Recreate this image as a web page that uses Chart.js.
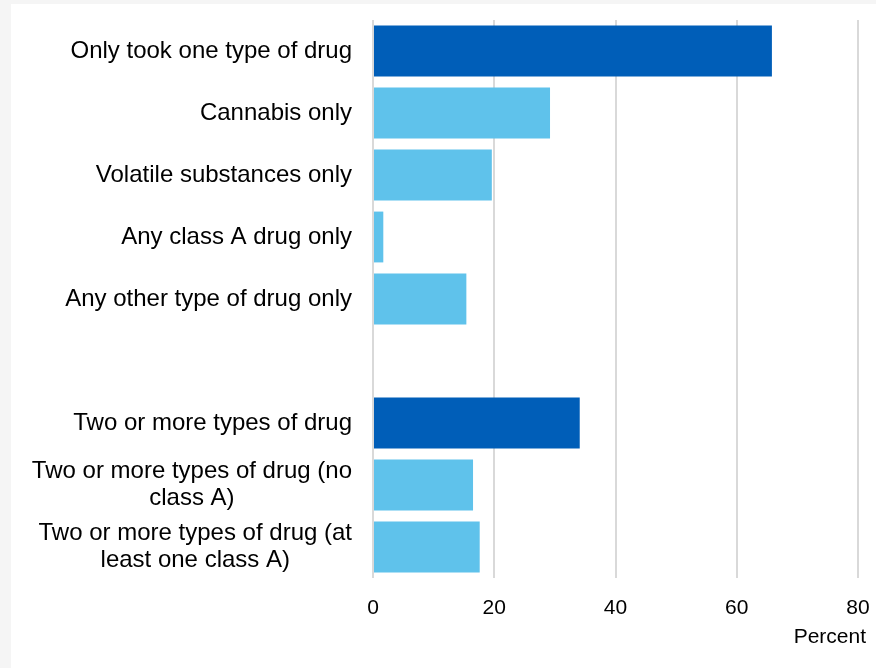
<!DOCTYPE html>
<html>
<head>
<meta charset="utf-8">
<script src="https://cdn.jsdelivr.net/npm/chart.js@4.4.0/dist/chart.umd.min.js"></script>
<style>
    html, body { margin: 0; padding: 0; background: #f5f5f5; }
    #wrap { position: absolute; left: 11px; top: 4px; width: 865px; height: 664px; background: #ffffff; }
    canvas { display: block; }
</style>
</head>
<body>
<div id="wrap"><canvas id="drug-chart" width="865" height="664"></canvas></div>
<script>
const categories = [
    'Only took one type of drug',
    'Cannabis only',
    'Volatile substances only',
    'Any class A drug only',
    'Any other type of drug only',
    '',
    'Two or more types of drug',
    ['Two or more types of drug (no', 'class A)'],
    ['Two or more types of drug (at', 'least one class A)']
];
const percentValues = [65.8, 29.2, 19.6, 1.7, 15.4, null, 34.1, 16.5, 17.6];
const barColours = ['#005eb8', '#5fc2eb', '#5fc2eb', '#5fc2eb', '#5fc2eb', '#5fc2eb', '#005eb8', '#5fc2eb', '#5fc2eb'];
const xTicks = [0, 20, 40, 60, 80];
const xAxisTitle = 'Percent';

const fontFamily = '"Liberation Sans", Arial, sans-serif';
const labelFont = `24px ${fontFamily}`;
const labelGap = 21;
const lineSpacing = 27;

// category labels: block sits right against the axis, wrapped lines are centred in the block
const categoryLabelPlugin = {
    id: 'categoryLabels',
    afterDraw(chart) {
        const c = chart.ctx;
        const yScale = chart.scales.y;
        const right = yScale.right - labelGap;
        c.save();
        c.font = labelFont;
        c.fillStyle = '#000000';
        c.textAlign = 'center';
        c.textBaseline = 'middle';
        categories.forEach((label, i) => {
            const lines = Array.isArray(label) ? label : [label];
            const widest = Math.max(...lines.map(l => c.measureText(l).width));
            const cx = right - widest / 2;
            const y0 = yScale.getPixelForTick(i) - (lines.length - 1) * lineSpacing / 2;
            lines.forEach((line, j) => c.fillText(line, cx, y0 + j * lineSpacing));
        });
        c.restore();
    }
};

// draws the axis title a little past the right end of the axis, like the original
const axisTitlePlugin = {
    id: 'axisTitle',
    afterDraw(chart) {
        const c = chart.ctx;
        const area = chart.chartArea;
        c.save();
        c.font = `21px ${fontFamily}`;
        c.fillStyle = '#000000';
        c.textAlign = 'right';
        c.textBaseline = 'middle';
        c.fillText(xAxisTitle, area.right + 8, area.bottom + 59);
        c.restore();
    }
};

const ctx = document.getElementById('drug-chart').getContext('2d');

new Chart(ctx, {
    type: 'bar',
    data: {
        labels: categories,
        datasets: [{
            data: percentValues,
            backgroundColor: barColours,
            borderWidth: 0,
            barPercentage: 0.82,
            categoryPercentage: 1
        }]
    },
    options: {
        indexAxis: 'y',
        responsive: false,
        animation: false,
        layout: {
            padding: { top: 16, right: 18, bottom: 0, left: 0 }
        },
        plugins: {
            legend: { display: false },
            tooltip: { enabled: false }
        },
        scales: {
            x: {
                min: 0,
                max: 80,
                afterBuildTicks: scale => {
                    scale.ticks = xTicks.map(v => ({ value: v }));
                },
                afterFit: scale => {
                    scale.height = 90;
                    scale.paddingLeft = 0;
                    scale.paddingRight = 0;
                },
                grid: {
                    color: '#d9d9d9',
                    lineWidth: 2,
                    drawTicks: false
                },
                border: { display: false },
                ticks: {
                    color: '#000000',
                    padding: 18,
                    font: { family: fontFamily, size: 21 }
                }
            },
            y: {
                afterFit: scale => {
                    scale.width = 362;
                    scale.paddingTop = 0;
                    scale.paddingBottom = 0;
                },
                grid: { display: false, drawTicks: false },
                border: { display: false },
                ticks: { display: false }
            }
        }
    },
    plugins: [categoryLabelPlugin, axisTitlePlugin]
});
</script>
</body>
</html>
